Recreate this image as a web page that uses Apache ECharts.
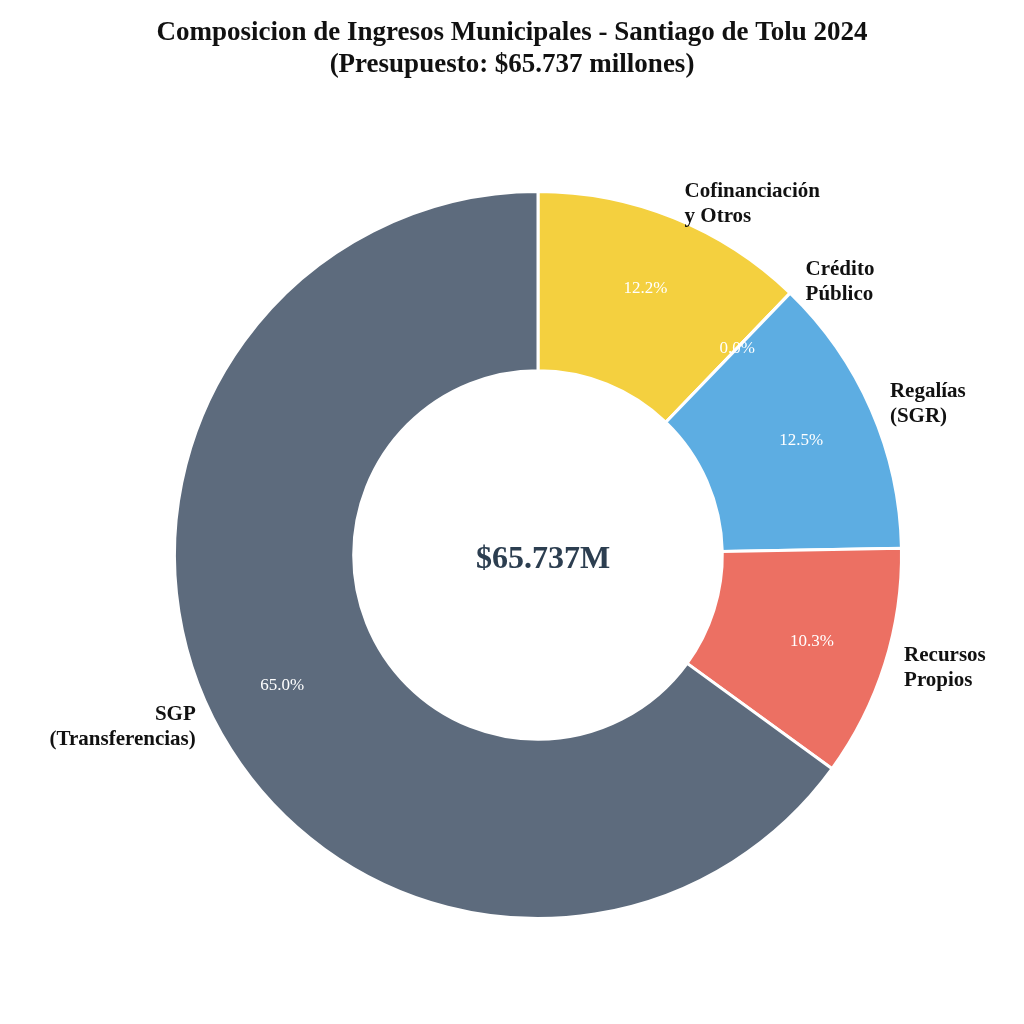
<!DOCTYPE html>
<html>
<head>
<meta charset="utf-8">
<script src="https://cdn.jsdelivr.net/npm/echarts@6/dist/echarts.min.js"></script>
<style>html,body{margin:0;padding:0;background:#fff}#main{width:1024px;height:1024px}</style>
</head>
<body>
<div id="main"></div>
<script>
var names = ['Cofinanciación\ny Otros', 'Crédito\nPúblico', 'Regalías\n(SGR)', 'Recursos\nPropios', 'SGP\n(Transferencias)'];
var values = [12.2, 0.0, 12.5, 10.3, 65.0];
var colors = ['#F4D03F', '#8E44AD', '#5DADE2', '#EC7063', '#5D6B7D'];
var centerText = '$65.737M';

var font = 'Liberation Serif';
var data = names.map(function (n, i) {
    return { name: n, value: values[i], itemStyle: { color: colors[i] } };
});
var labelData = names.map(function (n, i) {
    return { name: n, value: values[i] };
});

var myChart = echarts.init(document.getElementById('main'));
var option = {
    backgroundColor: '#fff',
    title: [{
        text: 'Composicion de Ingresos Municipales - Santiago de Tolu 2024\n(Presupuesto: $65.737 millones)',
        left: 'center', top: 12,
        textStyle: { fontFamily: font, fontSize: 27, fontWeight: 'bold', color: '#111', lineHeight: 32 }
    }, {
        text: centerText,
        left: 538, top: 555, textAlign: 'center', textVerticalAlign: 'middle',
        textStyle: { fontFamily: font, fontSize: 32, fontWeight: 'bold', color: '#2C3E50' }
    }],
    series: [{
        // outer names
        type: 'pie',
        center: [538, 555],
        radius: ['36%', '71%'],
        startAngle: 90,
        clockwise: true,
        data: data,
        itemStyle: { borderColor: '#fff', borderWidth: 3 },
        label: {
            position: 'outside', formatter: '{b}', fontFamily: font, fontSize: 21,
            fontWeight: 'bold', color: '#111', lineHeight: 25
        },
        labelLine: { show: false, length: 15, length2: 0 },
        emphasis: { disabled: true }
    }, {
        // inner percentages
        type: 'pie',
        center: [538, 555],
        radius: ['40%', '71%'],
        startAngle: 90,
        silent: true,
        data: labelData,
        itemStyle: { color: 'rgba(0,0,0,0)', borderWidth: 0 },
        label: {
            position: 'inside', fontFamily: font, fontSize: 17, color: '#fff',
            formatter: function (p) { return p.value.toFixed(1) + '%'; }
        },
        labelLine: { show: false }
    }]
};
myChart.setOption(option);
</script>
</body>
</html>
